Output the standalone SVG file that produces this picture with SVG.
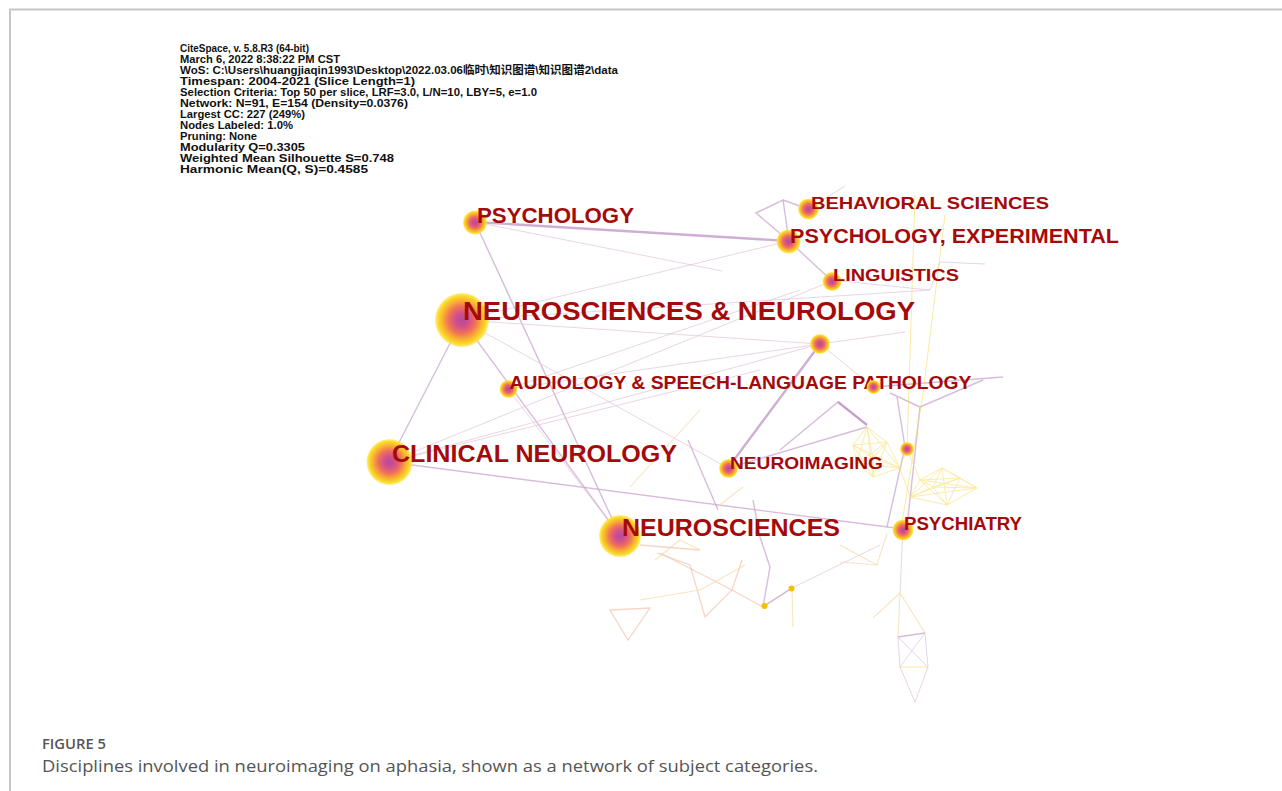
<svg xmlns="http://www.w3.org/2000/svg" width="1282" height="791" viewBox="0 0 1282 791">
<defs>
<radialGradient id="ng" cx="50%" cy="50%" r="50%">
<stop offset="0%" stop-color="#b34aa0"/>
<stop offset="25%" stop-color="#d2508a"/>
<stop offset="50%" stop-color="#f0705a"/>
<stop offset="72%" stop-color="#f8b030"/>
<stop offset="90%" stop-color="#fbdc2a"/>
<stop offset="100%" stop-color="#fde64a" stop-opacity="0.6"/>
</radialGradient>
<style>
.hdr{font-family:"Liberation Sans",Arial,"Noto Sans CJK SC",sans-serif;font-weight:bold;font-size:11px;fill:#111}
.lbl{font-family:"Liberation Sans",Arial,sans-serif;font-weight:bold;fill:#a40a0a}
.cap{font-family:"Open Sans","Noto Sans",sans-serif;fill:#555}
.p{stroke:#c8a0cc;stroke-width:1.4;fill:none;opacity:0.7}
.ps{stroke:#b98cc0;stroke-width:2.4;fill:none;opacity:0.7}
.pf{stroke:#e2c6dc;stroke-width:1;fill:none;opacity:0.75}
.y{stroke:#f6dc60;stroke-width:1;fill:none;opacity:0.6}
.yc{stroke:#f8e27a;stroke-width:0.9;fill:none;opacity:0.7}
.o{stroke:#f0c0a8;stroke-width:1.3;fill:none;opacity:0.65}
.oy{stroke:#f6d6a0;stroke-width:1.1;fill:none;opacity:0.65}
</style>
</defs>
<rect width="1282" height="791" fill="#ffffff"/>
<path d="M10 791 V9.5 H1282" fill="none" stroke="#c6c6c6" stroke-width="2"/>

<g id="header">
<text class="hdr" x="180" y="52" textLength="129" lengthAdjust="spacingAndGlyphs">CiteSpace, v. 5.8.R3 (64-bit)</text>
<text class="hdr" x="180" y="63" textLength="160" lengthAdjust="spacingAndGlyphs">March 6, 2022 8:38:22 PM CST</text>
<text class="hdr" x="180" y="74" textLength="438" lengthAdjust="spacingAndGlyphs">WoS: C:\Users\huangjiaqin1993\Desktop\2022.03.06临时\知识图谱\知识图谱2\data</text>
<text class="hdr" x="180" y="85" textLength="235" lengthAdjust="spacingAndGlyphs">Timespan: 2004-2021 (Slice Length=1)</text>
<text class="hdr" x="180" y="96" textLength="357" lengthAdjust="spacingAndGlyphs">Selection Criteria: Top 50 per slice, LRF=3.0, L/N=10, LBY=5, e=1.0</text>
<text class="hdr" x="180" y="107" textLength="228" lengthAdjust="spacingAndGlyphs">Network: N=91, E=154 (Density=0.0376)</text>
<text class="hdr" x="180" y="118" textLength="125" lengthAdjust="spacingAndGlyphs">Largest CC: 227 (249%)</text>
<text class="hdr" x="180" y="129" textLength="113" lengthAdjust="spacingAndGlyphs">Nodes Labeled: 1.0%</text>
<text class="hdr" x="180" y="140" textLength="77" lengthAdjust="spacingAndGlyphs">Pruning: None</text>
<text class="hdr" x="180" y="151" textLength="125" lengthAdjust="spacingAndGlyphs">Modularity Q=0.3305</text>
<text class="hdr" x="180" y="162" textLength="214" lengthAdjust="spacingAndGlyphs">Weighted Mean Silhouette S=0.748</text>
<text class="hdr" x="180" y="173" textLength="188" lengthAdjust="spacingAndGlyphs">Harmonic Mean(Q, S)=0.4585</text>
</g>

<g id="connectors">
<line class="ps" x1="475" y1="222" x2="789" y2="241" stroke-width="2"/>
<line class="pf" x1="475" y1="222" x2="722" y2="271"/>
<line class="p" x1="475" y1="222" x2="620" y2="536"/>
<line class="p" x1="462" y1="320" x2="389" y2="462"/>
<line class="p" x1="462" y1="320" x2="620" y2="536"/>
<line class="pf" x1="462" y1="320" x2="728" y2="468"/>
<line class="pf" x1="462" y1="320" x2="820" y2="344"/>
<line class="pf" x1="462" y1="320" x2="789" y2="241"/>
<line class="pf" x1="462" y1="320" x2="930" y2="290"/>
<line class="p" x1="389" y1="462" x2="903" y2="529"/>
<line class="pf" x1="389" y1="462" x2="820" y2="344"/>
<line class="pf" x1="389" y1="462" x2="832" y2="281"/>
<line class="pf" x1="389" y1="462" x2="760" y2="370"/>
<line class="pf" x1="508" y1="389" x2="820" y2="344"/>
<line class="pf" x1="508" y1="389" x2="800" y2="290"/>
<line class="pf" x1="508" y1="389" x2="620" y2="536"/>
<line class="ps" x1="728" y1="468" x2="820" y2="344"/>
<line class="p" x1="728" y1="468" x2="867" y2="427"/>
<polyline class="p" points="780,450 838,402 867,425"/>
<line class="ps" x1="838" y1="402" x2="867" y2="425" stroke-width="2"/>
<line class="p" x1="688" y1="440" x2="718" y2="510" stroke-width="2"/>
<line class="p" x1="832" y1="281" x2="789" y2="241"/>
<polygon class="p" points="756,213 783,200 789,241"/>
<line class="p" x1="783" y1="200" x2="808" y2="209"/>
<line class="pf" x1="808" y1="209" x2="845" y2="186"/>
<polyline class="pf" points="840,281 930,290 940,262 985,264"/>
<line class="p" x1="873" y1="387" x2="1003" y2="377"/>
<polyline class="p" points="897,397 905,447 887,527"/>
<polyline class="p" points="890,393 920,407 907,527"/>
<line class="p" x1="920" y1="407" x2="983" y2="380"/>
<line class="pf" x1="820" y1="344" x2="873" y2="387"/>
<line class="pf" x1="820" y1="344" x2="905" y2="332"/>

<polyline class="y" points="945,215 923,393 902,523"/>
<line class="y" x1="915" y1="195" x2="907" y2="449"/>
<line class="oy" x1="630" y1="487" x2="700" y2="410"/>
<line class="oy" x1="717" y1="507" x2="743" y2="487"/>

<g class="yc">
<path d="M867 427L887 442M867 427L853 445M867 427L873 458M867 427L900 468M867 427L873 477M867 427L857 463M887 442L853 445M887 442L873 458M887 442L900 468M887 442L873 477M887 442L857 463M853 445L873 458M853 445L900 468M853 445L873 477M853 445L857 463M873 458L900 468M873 458L873 477M873 458L857 463M900 468L873 477M900 468L857 463M873 477L857 463"/>
<path d="M942 468L977 488M942 468L947 505M942 468L910 497M942 468L920 480M942 468L933 487M942 468L960 478M977 488L947 505M977 488L910 497M977 488L920 480M977 488L933 487M977 488L960 478M947 505L910 497M947 505L920 480M947 505L933 487M947 505L960 478M910 497L920 480M910 497L933 487M910 497L960 478M920 480L933 487M920 480L960 478M933 487L960 478"/>
<path d="M907 449L900 468M907 449L920 480M900 468L910 497"/>
</g>

<polygon class="o" points="610,610 650,608 628,640"/>
<polyline class="o" points="657,553 690,565 705,617 732,590 742,560"/>
<line class="o" x1="660" y1="553" x2="732" y2="590"/>
<line class="o" x1="640" y1="545" x2="700" y2="550"/>
<polyline class="oy" points="655,560 680,540 700,550"/>
<polyline class="o" points="732,590 763,607 792,588"/>
<line class="p" x1="770" y1="567" x2="763" y2="607" stroke-width="2"/>
<polyline class="p" points="770,567 760,537 753,500"/>
<line class="oy" x1="792" y1="588" x2="793" y2="627"/>
<line class="pf" x1="792" y1="588" x2="880" y2="545"/>
<line class="p" x1="764" y1="606" x2="792" y2="588" stroke-width="2.5"/>
<polyline class="oy" points="840,562 877,565 887,533"/>
<line class="oy" x1="877" y1="565" x2="840" y2="545"/>
<line class="oy" x1="700" y1="590" x2="745" y2="565"/>
<line class="oy" x1="640" y1="600" x2="700" y2="590"/>

<line class="oy" x1="873" y1="618" x2="900" y2="593"/>
<line class="oy" x1="900" y1="593" x2="898" y2="637"/>
<line class="oy" x1="900" y1="593" x2="925" y2="633"/>
<line class="p" x1="898" y1="637" x2="925" y2="633" stroke-width="2"/>
<line class="pf" x1="898" y1="637" x2="928" y2="667"/>
<line class="pf" x1="925" y1="633" x2="900" y2="667"/>
<line class="pf" x1="898" y1="637" x2="900" y2="667"/>
<line class="pf" x1="925" y1="633" x2="928" y2="667"/>
<line class="y" x1="900" y1="667" x2="928" y2="667" stroke-width="2"/>
<line class="pf" x1="900" y1="667" x2="915" y2="702"/>
<line class="pf" x1="928" y1="667" x2="915" y2="702"/>
<line class="pf" x1="903" y1="529" x2="900" y2="593"/>
</g>

<g id="n-psychology"><circle cx="475" cy="222.5" r="12" fill="url(#ng)"/><text class="lbl" x="477" y="223" font-size="22" textLength="157" lengthAdjust="spacingAndGlyphs">PSYCHOLOGY</text></g>
<g id="n-neurosciences-neurology"><circle cx="462" cy="320" r="27" fill="url(#ng)"/><text class="lbl" x="463" y="320" font-size="25" textLength="452" lengthAdjust="spacingAndGlyphs">NEUROSCIENCES &amp; NEUROLOGY</text></g>
<g id="n-behavioral"><circle cx="808.5" cy="209" r="10.5" fill="url(#ng)"/><text class="lbl" x="811" y="208.5" font-size="17" textLength="238" lengthAdjust="spacingAndGlyphs">BEHAVIORAL SCIENCES</text></g>
<g id="n-psych-exp"><circle cx="788.5" cy="241.5" r="12" fill="url(#ng)"/><text class="lbl" x="790" y="242.5" font-size="20.5" textLength="329" lengthAdjust="spacingAndGlyphs">PSYCHOLOGY, EXPERIMENTAL</text></g>
<g id="n-linguistics"><circle cx="832" cy="281.5" r="9.5" fill="url(#ng)"/><text class="lbl" x="833" y="281" font-size="17" textLength="126" lengthAdjust="spacingAndGlyphs">LINGUISTICS</text></g>
<g id="n-unlabeled1"><circle cx="820" cy="344" r="10" fill="url(#ng)"/></g>
<g id="n-audiology"><circle cx="508.5" cy="389" r="9" fill="url(#ng)"/><text class="lbl" x="509.5" y="389" font-size="18" textLength="462" lengthAdjust="spacingAndGlyphs">AUDIOLOGY &amp; SPEECH-LANGUAGE PATHOLOGY</text></g>
<g id="n-unlabeled2"><circle cx="873.5" cy="387" r="7" fill="url(#ng)"/></g>
<g id="n-clinical"><circle cx="389.5" cy="462" r="23" fill="url(#ng)"/><text class="lbl" x="392" y="462" font-size="23" textLength="285" lengthAdjust="spacingAndGlyphs">CLINICAL NEUROLOGY</text></g>
<g id="n-neuroimaging"><circle cx="728.5" cy="468.5" r="9.5" fill="url(#ng)"/><text class="lbl" x="730" y="468.5" font-size="17" textLength="153" lengthAdjust="spacingAndGlyphs">NEUROIMAGING</text></g>
<g id="n-unlabeled3"><circle cx="907" cy="449" r="7" fill="url(#ng)"/></g>
<g id="n-neurosciences"><circle cx="620" cy="536" r="21" fill="url(#ng)"/><text class="lbl" x="622" y="536" font-size="23" textLength="218" lengthAdjust="spacingAndGlyphs">NEUROSCIENCES</text></g>
<g id="n-psychiatry"><circle cx="903" cy="530" r="10.5" fill="url(#ng)"/><text class="lbl" x="904" y="530" font-size="18" textLength="118" lengthAdjust="spacingAndGlyphs">PSYCHIATRY</text></g>
<g id="n-dot1"><circle cx="764.5" cy="606" r="3" fill="#f2c200"/></g>
<g id="n-dot2"><circle cx="791.5" cy="588.5" r="3" fill="#f2c200"/></g>

<g id="caption">
<text class="cap" x="42" y="749" font-size="13.5" font-weight="600" fill="#606060" textLength="64" lengthAdjust="spacingAndGlyphs">FIGURE 5</text>
<text class="cap" x="42" y="772" font-size="17" textLength="776" lengthAdjust="spacingAndGlyphs">Disciplines involved in neuroimaging on aphasia, shown as a network of subject categories.</text>
</g>
</svg>
